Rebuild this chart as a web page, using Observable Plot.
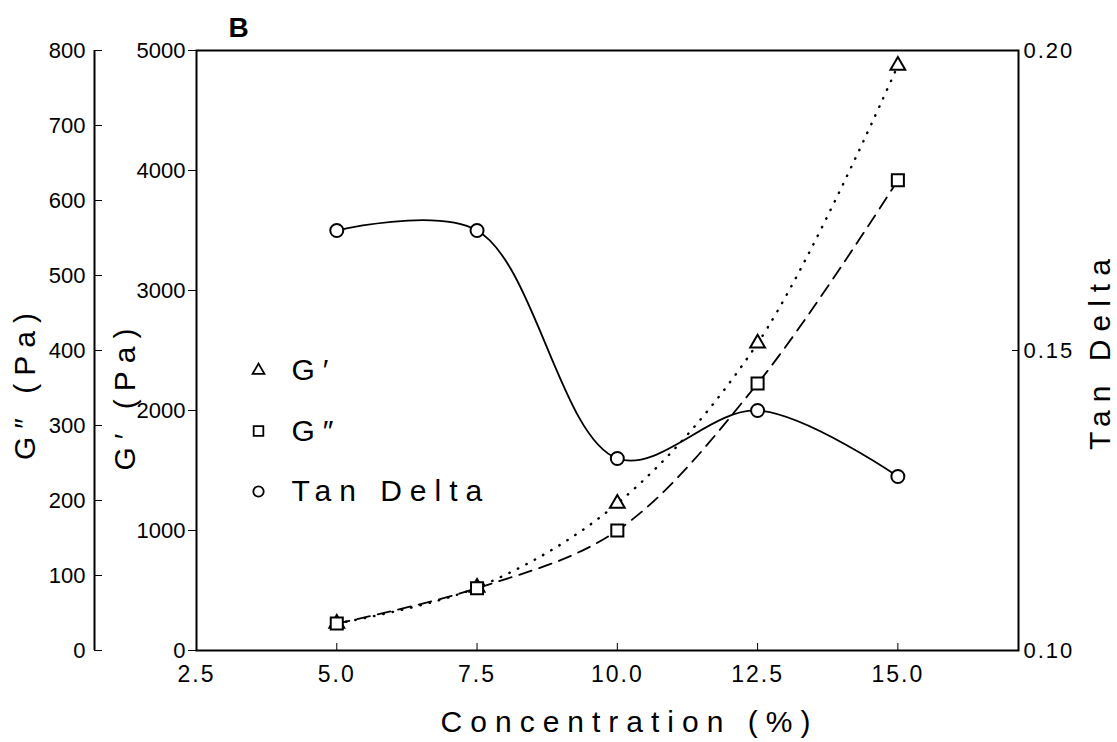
<!DOCTYPE html>
<html>
<head>
<meta charset="utf-8">
<script src="https://cdn.jsdelivr.net/npm/d3@7"></script>
<script src="https://cdn.jsdelivr.net/npm/@observablehq/plot@0.6"></script>
<style>
  body { margin: 0; background: #fff; }
  svg text { font-family: "Liberation Sans", Arial, sans-serif; }
  g[aria-description="spaced"] text { letter-spacing: 8px; }
  g[aria-description="tick-spaced"] text { letter-spacing: 2px; }
</style>
</head>
<body>
<div id="chart"></div>
<script>
// ---- data ----
const concentration = [5.0, 7.5, 10.0, 12.5, 15.0];
const gPrime = [225, 525, 1225, 2560, 4875];        // G' (Pa), left inner axis
const gDoublePrime = [36, 83, 160, 356, 627];       // G'' (Pa), far-left axis
const tanDelta = [0.170, 0.170, 0.132, 0.140, 0.129]; // right axis

const xTicks = [2.5, 5.0, 7.5, 10.0, 12.5, 15.0];
const gPrimeTicks = [0, 1000, 2000, 3000, 4000, 5000];
const gDoubleTicks = [0, 100, 200, 300, 400, 500, 600, 700, 800];
const tanDeltaTicks = [0.10, 0.15, 0.20];

const legendLabels = ["G′", "G″", "Tan Delta"];
const legendSymbols = ["triangle", "square", "circle"];

// secondary axes mapped onto the G' (0–5000) scale
const gPrimeMax = 5000, gDoubleMax = 800, tdMin = 0.10, tdMax = 0.20;
const gdToG = v => v * gPrimeMax / gDoubleMax;
const tdToG = v => (v - tdMin) / (tdMax - tdMin) * gPrimeMax;

const rows = concentration.map((c, i) => ({
  c,
  gp: gPrime[i],
  gd: gdToG(gDoublePrime[i]),
  td: tdToG(tanDelta[i])
}));

const symR = {triangle: 5.5, square: 6.8, circle: 6.5};

const legendMarks = legendLabels.flatMap((lab, i) => [
  Plot.dot([lab], {x: null, y: null, frameAnchor: "top-left", dx: 62, dy: 320 + i * 60.5,
    symbol: legendSymbols[i], r: symR[legendSymbols[i]] * 0.8, fill: "white", stroke: "black", strokeWidth: 1.8}),
  Plot.text([lab], {frameAnchor: "top-left", dx: 95, dy: 320 + i * 60.5, textAnchor: "start",
    lineAnchor: "middle", fontSize: 30, ariaDescription: "spaced"})
]);

const chart = Plot.plot({
  width: 1117,
  height: 742,
  marginLeft: 196,
  marginRight: 99,
  marginTop: 50,
  marginBottom: 92,
  style: {background: "white", color: "black"},
  x: {domain: [2.5, 17.15]},
  y: {domain: [0, gPrimeMax]},
  marks: [
    // x axis: inward ticks + labels
    Plot.axisX({ticks: xTicks, tickSize: 7, dy: -7, tickFormat: () => "", label: null}),
    Plot.axisX({ticks: xTicks, tickSize: 0, tickPadding: 15, tickFormat: d3.format(".1f"),
      fontSize: 23, label: null, ariaDescription: "tick-spaced"}),
    // G' axis (left, outward ticks)
    Plot.axisY({ticks: gPrimeTicks, tickSize: 8, tickPadding: 3, tickFormat: d3.format("d"),
      fontSize: 22, label: null}),
    // G'' axis (far left)
    Plot.ruleX([2.5], {dx: -102, strokeWidth: 2}),
    Plot.axisY({ticks: gDoubleTicks.map(gdToG), tickSize: 8, dx: -94, tickFormat: () => "", label: null}),
    Plot.axisY({ticks: gDoubleTicks.map(gdToG), tickSize: 0, dx: -102, tickPadding: 9,
      tickFormat: d => String(Math.round(d * gDoubleMax / gPrimeMax)), fontSize: 22, label: null}),
    // Tan Delta axis (right)
    Plot.axisY({anchor: "right", ticks: tanDeltaTicks.map(tdToG), tickSize: 7, dx: -7,
      tickFormat: () => "", label: null}),
    Plot.axisY({anchor: "right", ticks: tanDeltaTicks.map(tdToG), tickSize: 0, tickPadding: 5,
      tickFormat: d => (tdMin + d / gPrimeMax * (tdMax - tdMin)).toFixed(2), fontSize: 22, label: null,
      ariaDescription: "tick-spaced"}),
    Plot.frame({strokeWidth: 2}),
    // series lines
    Plot.line(rows, {x: "c", y: "gp", curve: "catmull-rom", stroke: "black", strokeWidth: 2.4,
      strokeDasharray: "0.5,9", strokeLinecap: "round"}),
    Plot.line(rows, {x: "c", y: "gd", curve: "catmull-rom", stroke: "black", strokeWidth: 1.8,
      strokeDasharray: "13,8"}),
    Plot.line(rows, {x: "c", y: "td", curve: "catmull-rom", stroke: "black", strokeWidth: 1.8}),
    // markers
    Plot.dot(rows, {x: "c", y: "gp", symbol: "triangle", r: symR.triangle, fill: "white", stroke: "black", strokeWidth: 2}),
    Plot.dot(rows, {x: "c", y: "gd", symbol: "square", r: symR.square, fill: "white", stroke: "black", strokeWidth: 2}),
    Plot.dot(rows, {x: "c", y: "td", symbol: "circle", r: symR.circle, fill: "white", stroke: "black", strokeWidth: 2}),
    // legend
    ...legendMarks,
    // titles
    Plot.text(["B"], {frameAnchor: "top-left", dx: 32, dy: -14, textAnchor: "start", lineAnchor: "bottom",
      fontSize: 28, fontWeight: "bold"}),
    Plot.text(["Concentration (%)"], {frameAnchor: "bottom", dy: 72, dx: 22, textAnchor: "middle",
      lineAnchor: "middle", fontSize: 30, ariaDescription: "spaced"}),
    Plot.text(["G″ (Pa)"], {frameAnchor: "left", rotate: -90, dx: -171, dy: 32, textAnchor: "middle",
      lineAnchor: "middle", fontSize: 30, ariaDescription: "spaced"}),
    Plot.text(["G′ (Pa)"], {frameAnchor: "left", rotate: -90, dx: -71, dy: 45, textAnchor: "middle",
      lineAnchor: "middle", fontSize: 30, ariaDescription: "spaced"}),
    Plot.text(["Tan Delta"], {frameAnchor: "right", rotate: -90, dx: 82, dy: 0, textAnchor: "middle",
      lineAnchor: "middle", fontSize: 30, ariaDescription: "spaced"})
  ]
});

document.getElementById("chart").appendChild(chart);
</script>
</body>
</html>
